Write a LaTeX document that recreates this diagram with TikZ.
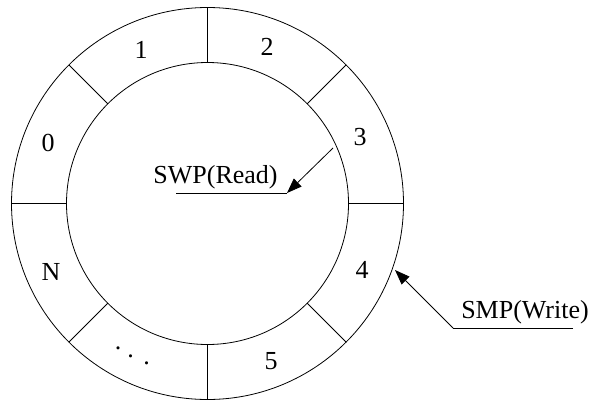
\documentclass[tikz,border=0pt]{standalone}
\usepackage{fontspec}
\setmainfont{Liberation Serif}
\usetikzlibrary{arrows.meta}
\begin{document}
\begin{tikzpicture}[x=1pt,y=-1pt,
  ring/.style={line width=0.8pt},
  lbl/.style={font=\fontsize{26}{30}\selectfont, inner sep=0pt},
  pointer/.style={line width=0.8pt, -{Triangle[length=15pt,width=11pt]}},
  rule/.style={line width=0.8pt}]
  \useasboundingbox (0,0) rectangle (594,402);
  \coordinate (c) at (207.5,203.5);
  % ring buffer: outer and inner circles
  \draw[ring] (c) circle[radius=196pt];
  \draw[ring] (c) circle[radius=141pt];
  % slot dividers
  \foreach \a in {0,45,...,315}
    \draw[ring] (c) ++(\a:141) -- ++(\a:55);
  % slot labels
  \node[lbl] (s1) at (141,50) {1};
  \node[lbl] (s2) at (267,47) {2};
  \node[lbl] (s0) at (48,143) {0};
  \node[lbl] (s3) at (360,137) {3};
  \node[lbl] (s4) at (362,270) {4};
  \node[lbl] (sN) at (51,272) {N};
  \node[lbl] (s5) at (271,361) {5};
  % descending ellipsis for the remaining slots
  \node[lbl, anchor=base west] (sdots) at (114.75,349.5)
    {.\hspace{6pt}\raisebox{-8pt}{.}\hspace{9.5pt}\raisebox{-15pt}{.}};
  % read pointer
  \node[lbl, anchor=base] (swp) at (215.5,183) {SWP(Read)};
  \coordinate (swpFrom) at (333,148);
  \coordinate (swpTip) at (287,193);
  \coordinate (swpEnd) at (176,193);
  \draw[pointer] (swpFrom) -- (swpTip);
  \draw[rule] (swpTip) -- (swpEnd);
  % write pointer
  \node[lbl, anchor=base] (smp) at (525,318) {SMP(Write)};
  \coordinate (smpTip) at (395,270);
  \coordinate (smpKnee) at (453,328);
  \coordinate (smpEnd) at (573,328);
  \draw[rule] (smpEnd) -- (smpKnee);
  \draw[pointer] (smpKnee) -- (smpTip);
\end{tikzpicture}
\end{document}
